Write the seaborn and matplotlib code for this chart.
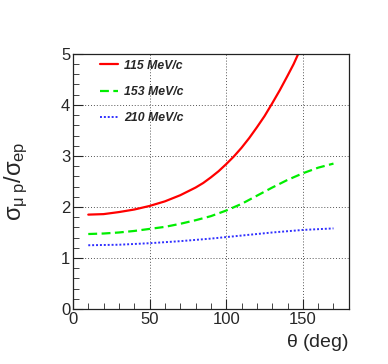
import numpy as np
import pandas as pd
import matplotlib
matplotlib.use("Agg")
import matplotlib.pyplot as plt
import seaborn as sns
from matplotlib.ticker import MultipleLocator

theta_115 = [10, 20, 30, 40, 50, 60, 70, 80, 85, 90, 95, 100, 105, 110, 115, 120, 125, 130, 135, 140, 144, 147]
ratio_115 = [1.85, 1.86, 1.90, 1.95, 2.02, 2.11, 2.23, 2.38, 2.47, 2.58, 2.70, 2.84, 2.99, 3.16, 3.35, 3.56, 3.78, 4.03, 4.29, 4.57, 4.80, 5.0]
theta_153 = [10, 20, 30, 40, 50, 60, 70, 80, 90, 100, 110, 120, 130, 140, 150, 160, 170]
ratio_153 = [1.47, 1.48, 1.50, 1.53, 1.57, 1.61, 1.67, 1.74, 1.82, 1.93, 2.06, 2.22, 2.38, 2.53, 2.66, 2.77, 2.85]
theta_210 = [10, 30, 50, 70, 90, 100, 110, 130, 150, 170]
ratio_210 = [1.25, 1.26, 1.29, 1.33, 1.38, 1.41, 1.44, 1.50, 1.55, 1.58]
labels = ["115 MeV/c", "153 MeV/c", "210 MeV/c"]

df = pd.concat([
    pd.DataFrame({"theta": theta_115, "ratio": ratio_115, "p": labels[0]}),
    pd.DataFrame({"theta": theta_153, "ratio": ratio_153, "p": labels[1]}),
    pd.DataFrame({"theta": theta_210, "ratio": ratio_210, "p": labels[2]}),
])

sns.set_theme(style="ticks")
plt.rcParams['font.family'] = ['Liberation Sans', 'DejaVu Sans']
plt.rcParams['mathtext.fontset'] = 'custom'
plt.rcParams['mathtext.rm'] = 'Liberation Sans'
plt.rcParams['mathtext.it'] = 'Liberation Sans'

fig = plt.figure(figsize=(3.88, 3.64), dpi=100)
ax = fig.add_axes([0.188, 0.151, 0.711, 0.701])

palette = {labels[0]: "#ff0000", labels[1]: "#00ee00", labels[2]: "#3030ff"}
styles = {labels[0]: "-", labels[1]: (0, (4, 2)), labels[2]: (0, (1, 1))}
for lab in labels:
    sub = df[df["p"] == lab]
    sns.lineplot(data=sub, x="theta", y="ratio", ax=ax, color=palette[lab],
                 linestyle=styles[lab], linewidth=1.6 if lab != labels[2] else 1.4,
                 label=lab, estimator=None, sort=True)

ax.set_xlim(0, 180)
ax.set_ylim(0, 5)
ax.xaxis.set_major_locator(MultipleLocator(50))
ax.xaxis.set_minor_locator(MultipleLocator(10))
ax.yaxis.set_major_locator(MultipleLocator(1))
ax.yaxis.set_minor_locator(MultipleLocator(0.2))
ax.tick_params(which="both", direction="in", top=False, right=False, labelsize=12, pad=2)
ax.tick_params(which="major", length=7, width=0.8)
ax.tick_params(which="minor", length=4, width=0.6)
ax.grid(True, which="major", linestyle=(0, (1, 2)), color="#555555", linewidth=0.7)
for s in ax.spines.values():
    s.set_linewidth(0.9)
    s.set_color("#222222")

ax.set_xlabel(r"$\theta$ (deg)", fontsize=14, loc="right", labelpad=4)
ax.set_ylabel(r"$\sigma_{\mu\ p}/\sigma_{ep}$", fontsize=17, loc="center", labelpad=22)

leg = ax.legend(loc="upper left", frameon=False, bbox_to_anchor=(0.06, 1.02),
                handlelength=1.4, handletextpad=0.55, labelspacing=1.15,
                prop={"size": 8.8, "weight": "bold", "style": "italic"})

fig.savefig("out.png", dpi=100)
